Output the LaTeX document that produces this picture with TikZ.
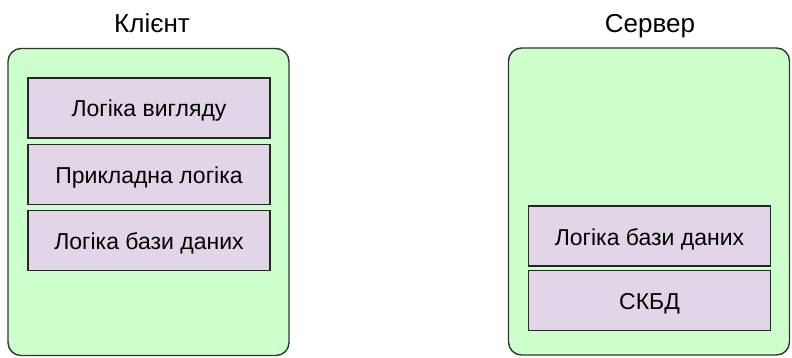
\documentclass[tikz,border=0pt]{standalone}
\usepackage{fontspec}
\setmainfont{Liberation Sans}
\definecolor{tiergreen}{HTML}{CCFFCC}
\definecolor{layerlilac}{HTML}{E1D5E7}
\begin{document}
\begin{tikzpicture}[x=1pt,y=-1pt,
  tier/.style={draw=black!80,fill=tiergreen,rounded corners=13pt,line width=1.4pt,
    minimum width=281pt,minimum height=307pt,inner sep=0pt},
  layer/.style={draw=black!85,fill=layerlilac,line width=1.4pt,
    minimum width=242pt,minimum height=60pt,inner sep=0pt,
    text height=20pt,text depth=2pt,font=\fontsize{23}{27}\selectfont},
  tiername/.style={anchor=base,inner sep=0pt,font=\fontsize{26}{31}\selectfont}]
\useasboundingbox (0,0) rectangle (792,358);
\node[tier] (client) at (148.5,202) {};
\node[tier] (server) at (649,201.5) {};
\node[tiername] (clientname) at (152,33) {Клієнт};
\node[tiername] (servername) at (650,33) {Сервер};
\node[layer] (view) at (149,108) {Логіка вигляду};
\node[layer] (app) at (149,174.5) {Прикладна логіка};
\node[layer] (clientdb) at (149,240.5) {Логіка бази даних};
\node[layer] (serverdb) at (649.5,236) {Логіка бази даних};
\node[layer] (dbms) at (649.5,300.5) {СКБД};
\end{tikzpicture}
\end{document}
